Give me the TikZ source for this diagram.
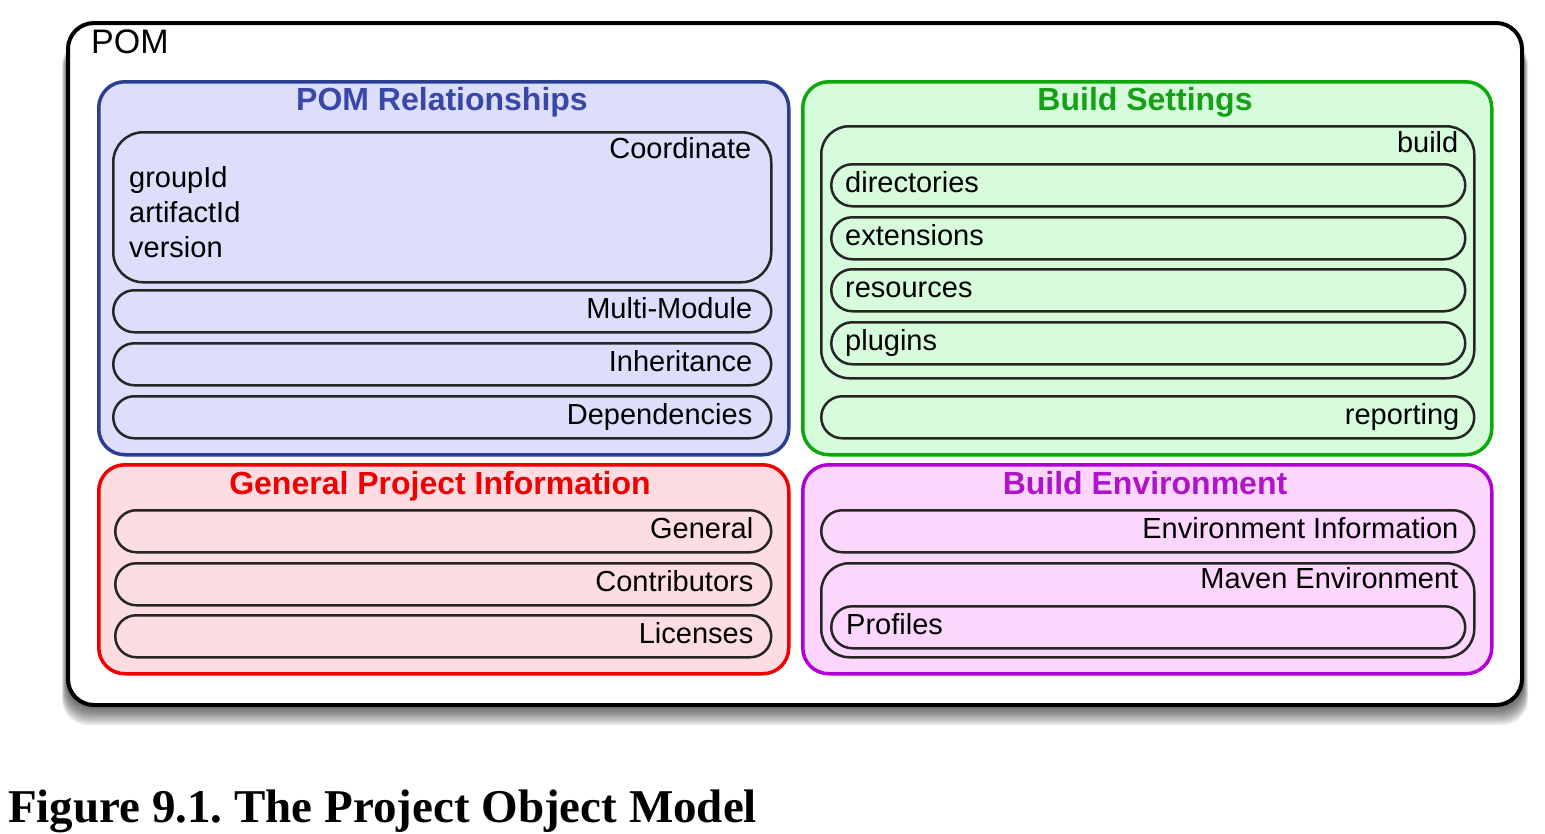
\documentclass[tikz,border=0pt]{standalone}
\usepackage{fontspec}
\setmainfont{Liberation Sans}
\newfontfamily\capfont{Liberation Serif}
\usetikzlibrary{positioning}
\frenchspacing

\definecolor{relfill}{RGB}{221,221,252}
\definecolor{reldraw}{RGB}{44,62,145}
\definecolor{reltext}{RGB}{56,72,168}
\definecolor{setfill}{RGB}{214,252,220}
\definecolor{setdraw}{RGB}{12,168,12}
\definecolor{settext}{RGB}{22,160,22}
\definecolor{inffill}{RGB}{253,220,226}
\definecolor{infdraw}{RGB}{240,0,0}
\definecolor{envfill}{RGB}{252,214,252}
\definecolor{envdraw}{RGB}{176,0,212}
\definecolor{envtext}{RGB}{176,20,202}

\newcommand{\itemfont}{\fontsize{29}{35}\selectfont}
\newcommand{\titlefont}{\fontsize{32}{36}\selectfont\bfseries}

\tikzset{
  pombox/.style={draw, fill=white, rounded corners=26pt, line width=4pt, anchor=north west, inner sep=0pt},
  panel/.style={rounded corners=26pt, line width=3.5pt, anchor=north west, inner sep=0pt},
  item/.style={draw=black!85, rounded corners=21pt, line width=2.5pt, anchor=north west, inner sep=0pt, minimum height=42pt},
  lbl/.style={inner sep=0pt, font=\itemfont, text height=21pt, text depth=6pt},
  paneltitle/.style={inner sep=0pt, font=\titlefont, anchor=base}
}

\begin{document}
\begin{tikzpicture}[x=1pt,y=-1pt]
\useasboundingbox (0,0) rectangle (1545,833);

% shadow under the POM box
\foreach \s in {1,...,10}
  \fill[black, opacity=0.09, rounded corners=26pt] (68-0.6*\s,40) rectangle (1522+0.6*\s,703+2.2*\s);

\node[pombox, minimum width=1454pt, minimum height=682pt] (pom) at (66,21) {};
\node[inner sep=0pt, font=\fontsize{34}{38}\selectfont, anchor=base west] (pomtxt) at (91,53) {POM};

% POM Relationships
\node[panel, draw=reldraw, fill=relfill, minimum width=690pt, minimum height=373pt] (rel) at (97,80) {};
\node[paneltitle, text=reltext] (reltitle) at (442,110) {POM Relationships};
\node[item, rounded corners=30pt, minimum width=658pt, minimum height=150pt] (coord) at (112,131) {};
\node[lbl, anchor=north east] (coordtxt) at ([shift={(-21pt,-6pt)}]coord.north east) {Coordinate};
\node[inner sep=0pt, font=\itemfont, align=left, anchor=north west] (gav) at (129,166) {groupId\\artifactId\\version};
\node[item, minimum width=658pt] (multi) at (112,289) {};
\node[lbl, left=20pt of multi.east] (multitxt) {Multi-Module};
\node[item, minimum width=658pt] (inherit) at (112,342) {};
\node[lbl, left=20pt of inherit.east] (inherittxt) {Inheritance};
\node[item, minimum width=658pt] (deps) at (112,395) {};
\node[lbl, left=20pt of deps.east] (depstxt) {Dependencies};

% Build Settings
\node[panel, draw=setdraw, fill=setfill, minimum width=689pt, minimum height=373pt] (set) at (801,80) {};
\node[paneltitle, text=settext] (settitle) at (1145,110) {Build Settings};
\node[item, rounded corners=28pt, minimum width=653pt, minimum height=252pt] (build) at (820,125) {};
\node[lbl, anchor=north east] (buildtxt) at ([shift={(-17pt,-6pt)}]build.north east) {build};
\node[item, minimum width=634pt] (dirs) at (830,163) {};
\node[lbl, right=15pt of dirs.west] (dirstxt) {directories};
\node[item, minimum width=634pt] (ext) at (830,216) {};
\node[lbl, right=15pt of ext.west] (exttxt) {extensions};
\node[item, minimum width=634pt] (res) at (830,268) {};
\node[lbl, right=15pt of res.west] (restxt) {resources};
\node[item, minimum width=634pt] (plug) at (830,321) {};
\node[lbl, right=15pt of plug.west] (plugtxt) {plugins};
\node[item, minimum width=653pt] (report) at (820,395) {};
\node[lbl, left=16pt of report.east] (reporttxt) {reporting};

% General Project Information
\node[panel, draw=infdraw, fill=inffill, minimum width=690pt, minimum height=209pt] (inf) at (97,463) {};
\node[paneltitle, text=infdraw] (inftitle) at (440,494) {General Project Information};
\node[item, minimum width=656pt] (gen) at (114,509) {};
\node[lbl, left=19pt of gen.east] (gentxt) {General};
\node[item, minimum width=656pt] (contrib) at (114,562) {};
\node[lbl, left=19pt of contrib.east] (contribtxt) {Contributors};
\node[item, minimum width=656pt] (lic) at (114,614) {};
\node[lbl, left=19pt of lic.east] (lictxt) {Licenses};

% Build Environment
\node[panel, draw=envdraw, fill=envfill, minimum width=689pt, minimum height=209pt] (env) at (801,463) {};
\node[paneltitle, text=envtext] (envtitle) at (1145,494) {Build Environment};
\node[item, minimum width=653pt] (envinfo) at (820,509) {};
\node[lbl, left=17pt of envinfo.east] (envinfotxt) {Environment Information};
\node[item, rounded corners=28pt, minimum width=653pt, minimum height=94pt] (maven) at (820,562) {};
\node[lbl, anchor=north east] (maventxt) at ([shift={(-17pt,-5pt)}]maven.north east) {Maven Environment};
\node[item, minimum width=634pt] (prof) at (830,605) {};
\node[lbl, right=16pt of prof.west] (proftxt) {Profiles};

% caption
\node[inner sep=0pt, font=\capfont\bfseries\fontsize{47}{50}\selectfont, anchor=base west] (caption) at (8,822) {Figure 9.1. The Project Object Model};
\end{tikzpicture}
\end{document}
